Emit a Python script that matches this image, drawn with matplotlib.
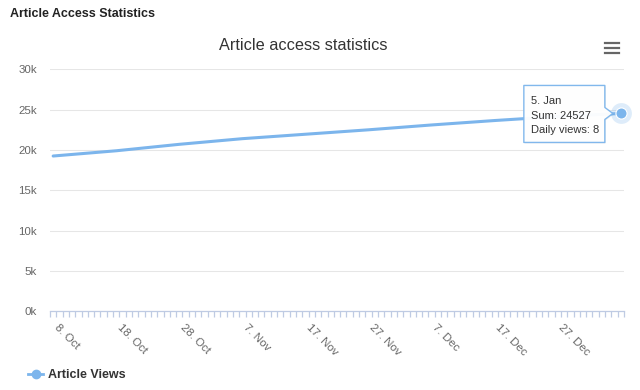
import matplotlib
matplotlib.use('Agg')
import matplotlib.pyplot as plt
import matplotlib.transforms as mtransforms
from matplotlib.patches import Polygon
from matplotlib.lines import Line2D
import numpy as np
import pandas as pd

plt.rcParams['font.family'] = ['Liberation Sans', 'DejaVu Sans']

# one category per day, 7 Oct .. 5 Jan
days = pd.date_range('2017-10-07', '2018-01-05', freq='D')
day_labels = [f"{d.day}. {d.strftime('%b')}" for d in days]

# cumulative article views (every 10th day + last day)
sample_idx = [0, 10, 20, 30, 40, 50, 60, 70, 80, 90]
views = [19250, 19900, 20700, 21400, 21950, 22500, 23100, 23650, 24150, 24527]

tooltip_lines = ['5. Jan', 'Sum: 24527', 'Daily views: 8']
label_step = 10
blue = '#7cb5ec'

W, H = 640, 390
fig = plt.figure(figsize=(W / 100, H / 100), dpi=100)
fig.patch.set_facecolor('white')

def fx(px):
    return px / W

def fy(py):
    return 1 - py / H

ax = fig.add_axes([fx(50), fy(311.3), fx(624) - fx(50), fy(69.3) - fy(311.3)])

ax.plot(sample_idx, views, color=blue, lw=2.2, solid_capstyle='round', zorder=3)

ax.set_xlim(-0.5, len(days) - 0.5)
ax.set_ylim(0, 30000)

yt = np.arange(0, 30001, 5000)
ax.set_yticks(yt)
ax.set_yticklabels([f'{v // 1000}k' for v in yt])
ax.tick_params(axis='y', length=0, pad=9.5, labelsize=8.25, labelcolor='#666666')
ax.yaxis.grid(True, color='#e6e6e6', lw=0.75)
ax.set_axisbelow(True)

lab_pos = list(range(1, len(days), label_step))
ax.set_xticks(lab_pos)
ax.set_xticklabels([day_labels[i] for i in lab_pos], rotation=-45,
                   ha='left', va='top', rotation_mode='anchor')
ax.set_xticks(np.arange(-0.5, len(days)), minor=True)
ax.tick_params(axis='x', which='major', length=0, pad=8, labelsize=8.25,
               labelcolor='#666666')
ax.tick_params(axis='x', which='minor', length=4.5, width=0.9, color='#bfcbe3')

for s in ['top', 'right', 'left']:
    ax.spines[s].set_visible(False)
ax.spines['bottom'].set_color('#bfcbe3')
ax.spines['bottom'].set_linewidth(0.9)

# hover state on the last point
px, py = sample_idx[-1], views[-1]
ax.plot([px], [py], 'o', ms=15, color=blue, alpha=0.25, mew=0, zorder=4, clip_on=False)
ax.plot([px], [py], 'o', ms=8, color=blue, mec='white', mew=0.8, zorder=5, clip_on=False)

# tooltip, drawn in pixel offsets from the hovered point
off = (mtransforms.Affine2D().scale(1 / 100) + fig.dpi_scale_trans
       + mtransforms.ScaledTranslation(px, py, ax.transData))
shape = [(-97, 28), (-16, 28), (-16, 6), (-8, 0), (-16, -6), (-16, -29), (-97, -29)]
shadow = Polygon([(x + 1, y - 1) for x, y in shape], closed=True, transform=off,
                 facecolor='#000000', alpha=0.06, edgecolor='none', zorder=6, clip_on=False)
fig.add_artist(shadow)
tip = Polygon(shape, closed=True, transform=off, facecolor='white', alpha=0.96,
              edgecolor=blue, lw=1, zorder=7, clip_on=False, joinstyle='round')
fig.add_artist(tip)
for txt, dy in zip(tooltip_lines, [12, -3, -17]):
    fig.text(-90, dy, txt, transform=off, fontsize=8, color='#333333',
             ha='left', va='center', zorder=8)

# titles
fig.text(fx(10), fy(14), 'Article Access Statistics', fontsize=9, weight='bold',
         color='#222222', ha='left', va='center')
fig.text(fx(303), fy(46), 'Article access statistics', fontsize=11.7,
         color='#333333', ha='center', va='center')

# context menu icon
for yy in [42.5, 47.5, 52.5]:
    fig.add_artist(Line2D([fx(605), fx(619)], [fy(yy), fy(yy)], color='#666666',
                          lw=1.6, transform=fig.transFigure))

# legend
proxy = Line2D([], [], color=blue, lw=2, marker='o', ms=6)
fig.legend(handles=[proxy], labels=['Article Views'], loc='center left',
           bbox_to_anchor=(fx(17), fy(375)), frameon=False, handlelength=1.2,
           handletextpad=0.4, prop={'weight': 'bold', 'size': 9},
           labelcolor='#333333')

fig.savefig('out.png', dpi=100)
